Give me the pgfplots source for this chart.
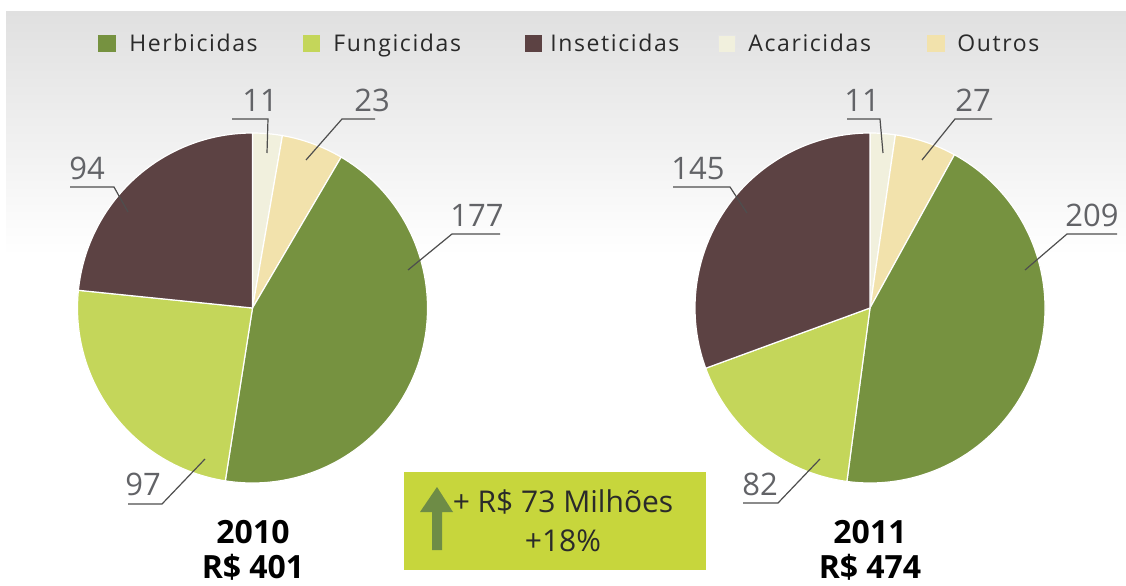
\documentclass[border=0pt]{standalone}
\usepackage{fontspec}
\setmainfont{Open Sans}
\newfontfamily\legfont[LetterSpace=7]{Open Sans}
\usepackage{pgfplots}
\pgfplotsset{compat=1.18}

\definecolor{cHer}{HTML}{769240}
\definecolor{cFun}{HTML}{C4D65A}
\definecolor{cIns}{HTML}{5C4243}
\definecolor{cAca}{HTML}{F1F0DD}
\definecolor{cOut}{HTML}{F2E2AC}
\definecolor{cBox}{HTML}{C7D63C}
\definecolor{cArr}{HTML}{6E8C46}
\definecolor{cLab}{HTML}{626367}
\definecolor{cLine}{HTML}{4E4E4E}
\definecolor{cBg}{HTML}{E0E0E0}
\definecolor{cTxt}{HTML}{2A2A2A}

% pie: centre x, centre y (axis units = px), list value/colour, clockwise from 12 o'clock
\newcommand\pie[3]{%
  \xdef\pieTot{0}%
  \foreach \v/\col in {#3}{\pgfmathsetmacro\pieT{\pieTot+\v}\xdef\pieTot{\pieT}}%
  \xdef\pieCur{90}%
  \foreach \v/\col in {#3}{%
    \pgfmathsetmacro\pieNxt{\pieCur-\v/\pieTot*360}%
    \fill[fill=\col, draw=white, line width=0.6pt] (axis cs:#1,#2) -- ++(\pieCur:87.5pt)
      arc[start angle=\pieCur, end angle=\pieNxt, radius=87.5pt] -- cycle;%
    \xdef\pieCur{\pieNxt}%
  }%
}

\begin{document}
\begin{tikzpicture}
\begin{axis}[width=563pt,height=292.5pt,scale only axis,
  xmin=0,xmax=1126,ymin=0,ymax=585,axis lines=none,clip=false]
\addplot[draw=none] coordinates {(0,0) (1126,585)};
\pgfplotsextra{
  % background
  \fill[white] (axis cs:0,0) rectangle (axis cs:1126,585);
  \fill[top color=cBg, bottom color=white] (axis cs:6,573) rectangle (axis cs:1126,330);
  % pies
  \pie{252.5}{277}{11/cAca,23/cOut,177/cHer,97/cFun,94/cIns}
  \pie{870}{277}{11/cAca,27/cOut,209/cHer,82/cFun,145/cIns}
  % leader lines
  \begin{scope}[cLine, line width=0.6pt]
  \draw (axis cs:232,466) -- (axis cs:268,466) -- (axis cs:267,432);
  \draw (axis cs:375,466) -- (axis cs:342,466) -- (axis cs:306,425);
  \draw (axis cs:70,398) -- (axis cs:114,398) -- (axis cs:128,373);
  \draw (axis cs:500,351) -- (axis cs:452,351) -- (axis cs:408,315);
  \draw (axis cs:128,81) -- (axis cs:162,81) -- (axis cs:205,126);
  \draw (axis cs:847,466) -- (axis cs:880,466) -- (axis cs:883,432);
  \draw (axis cs:992,466) -- (axis cs:955,466) -- (axis cs:922,425);
  \draw (axis cs:673,398) -- (axis cs:730,398) -- (axis cs:747,372);
  \draw (axis cs:1117,351) -- (axis cs:1067,351) -- (axis cs:1025,315);
  \draw (axis cs:743,82) -- (axis cs:778,82) -- (axis cs:820,126);
  \end{scope}
  % value labels
  \begin{scope}[every node/.style={cLab, anchor=base, inner sep=0pt, font=\fontsize{15.5pt}{16pt}\selectfont}]
  \node at (axis cs:260,473) {11};
  \node at (axis cs:372,473) {23};
  \node at (axis cs:87,405) {94};
  \node at (axis cs:477,358) {177};
  \node at (axis cs:143,90) {97};
  \node at (axis cs:862,473) {11};
  \node at (axis cs:973,473) {27};
  \node at (axis cs:698,405) {145};
  \node at (axis cs:1092,358) {209};
  \node at (axis cs:760,90) {82};
  \end{scope}
  % legend
  \begin{scope}[every node/.style={cTxt, anchor=base west, inner sep=0pt, font=\legfont\fontsize{11.5pt}{13pt}\selectfont}]
  \fill[cHer] (axis cs:98,533) rectangle (axis cs:116,550);
  \node at (axis cs:129,533) {Herbicidas};
  \fill[cFun] (axis cs:303,533) rectangle (axis cs:320,550);
  \node at (axis cs:333,533) {Fungicidas};
  \fill[cIns] (axis cs:525,533) rectangle (axis cs:542,550);
  \node at (axis cs:550,533) {Inseticidas};
  \filldraw[fill=cAca, draw=black!10, line width=0.3pt] (axis cs:718,533) rectangle (axis cs:735,550);
  \node at (axis cs:748,533) {Acaricidas};
  \fill[cOut] (axis cs:927,533) rectangle (axis cs:945,550);
  \node at (axis cs:957,533) {Outros};
  \end{scope}
  % box
  \fill[cBox] (axis cs:404,15) rectangle (axis cs:706,113);
  \fill[cArr] (axis cs:432,35) -- (axis cs:442,35) -- (axis cs:442,73) -- (axis cs:453,73)
     -- (axis cs:437,98) -- (axis cs:420,73) -- (axis cs:432,73) -- cycle;
  \begin{scope}[every node/.style={cTxt, anchor=base, inner sep=0pt, font=\fontsize{15pt}{16pt}\selectfont}]
  \node at (axis cs:563,73) {+ R\$ 73 Milhões};
  \node at (axis cs:563,34) {+18\%};
  \end{scope}
  % year totals
  \begin{scope}[every node/.style={black, anchor=base, inner sep=0pt, font=\bfseries\fontsize{16pt}{16pt}\selectfont}]
  \node at (axis cs:253,42) {2010};
  \node at (axis cs:253,7) {R\$ 401};
  \node at (axis cs:870,42) {2011};
  \node at (axis cs:870,7) {R\$ 474};
  \end{scope}
}
\end{axis}
\pgfresetboundingbox
\path (current axis.south west) rectangle (current axis.north east);
\end{tikzpicture}
\end{document}
